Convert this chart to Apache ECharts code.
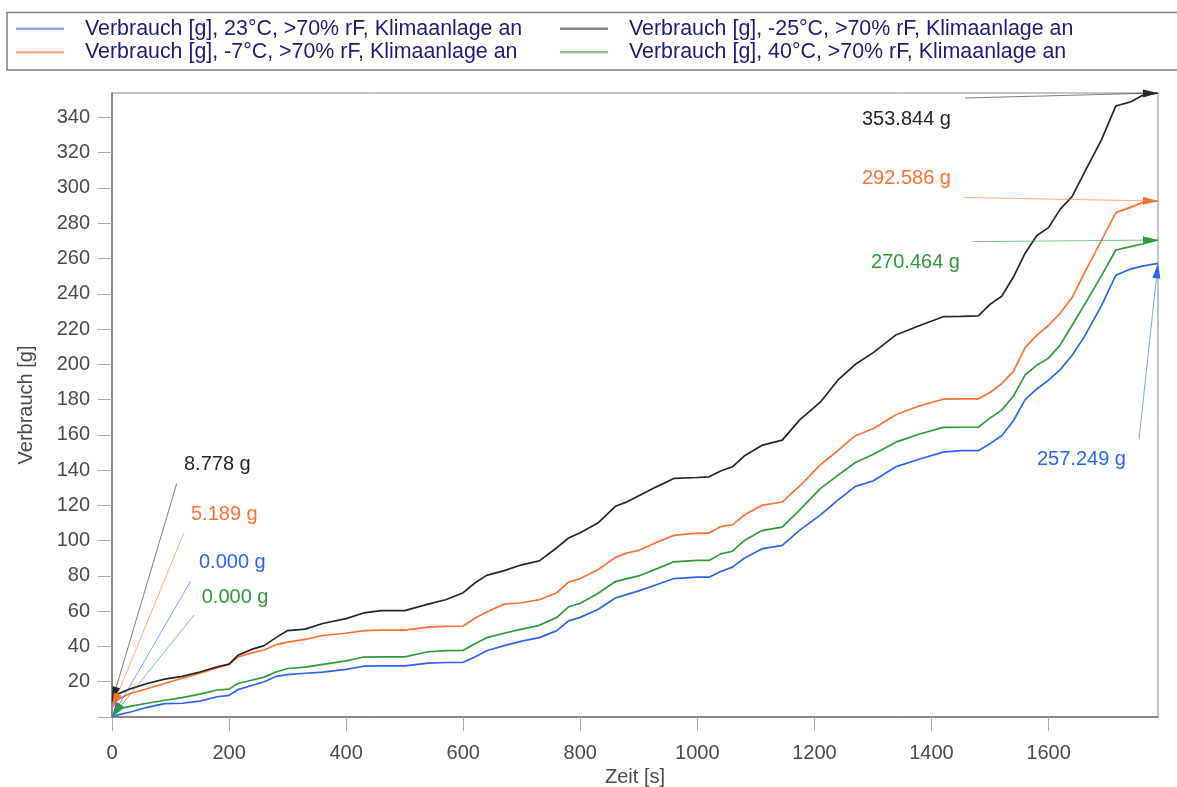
<!DOCTYPE html>
<html>
<head>
<meta charset="utf-8">
<title>Verbrauch</title>
<script src="https://cdn.jsdelivr.net/npm/echarts@6.0.0/dist/echarts.min.js"></script>
<style>
  html, body { margin: 0; padding: 0; background: #ffffff; }
  #chart { width: 1177px; height: 787px; }
</style>
</head>
<body>
<div id="chart"></div>
<script>
// Time axis [s], shared by all measurement runs
const zeit = [
  0, 10, 30, 60, 90, 120, 150, 180, 200, 215, 240, 260, 280, 300, 330, 360, 400, 430, 460, 500,
  540, 570, 600, 620, 640, 670, 700, 730, 760, 780, 800, 830, 860, 880, 900, 930, 960, 1000, 1020, 1040,
  1060, 1080, 1110, 1145, 1175, 1210, 1240, 1270, 1300, 1340, 1380, 1420, 1450, 1480, 1500, 1520, 1540, 1560, 1580, 1600,
  1620, 1640, 1660, 1690, 1715, 1740, 1760, 1787
];

// Cumulative consumption [g] per climate condition
const verbrauch23 = [
  0, 1.2, 2.7, 5.5, 7.6, 7.8, 9, 11.5, 12.3, 15.5, 18, 20, 23, 24, 24.8, 25.5, 27, 28.8, 29, 29,
  30.6, 30.9, 31, 34, 37.6, 40.5, 43, 45, 49, 54.5, 56.5, 61, 67.5, 69.5, 71.5, 75, 78.5, 79.3, 79.3, 82.5,
  85, 90, 95.3, 97.3, 106, 114.5, 123, 130.8, 133.8, 142, 146.3, 150.2, 151, 151, 155, 159.5, 168, 180, 186, 191,
  197, 205, 215, 233, 250.5, 254, 255.7, 257.249
];
const verbrauchMinus7 = [
  5.189, 10, 13.2, 16, 19, 22, 24.8, 28, 29.8, 34, 36.5, 38, 41, 42.5, 44, 46.2, 47.5, 49, 49.3, 49.3,
  51, 51.4, 51.6, 56, 59.5, 64, 64.8, 66.5, 70.5, 76.5, 78.5, 83.5, 90.5, 93, 94.5, 99, 103, 104.3, 104.3, 108,
  109, 114.5, 120, 121.9, 131, 143, 151, 159.5, 163.5, 171.5, 176.5, 180.2, 180.4, 180.4, 184, 189, 196, 209.5, 216.5, 222,
  229, 237.7, 251, 270, 286, 289, 291.7, 292.586
];
const verbrauchMinus25 = [
  8.778, 13, 15.8, 19, 21.5, 23, 25.5, 28.5, 30, 35, 38.5, 40.5, 45, 49, 49.8, 53, 55.8, 59, 60.3, 60.3,
  64, 66.5, 70.5, 76, 80.3, 83, 86.3, 88.5, 96, 101.5, 104.5, 110, 119.5, 122, 125.5, 130.5, 135.3, 135.8, 136.2, 139.5,
  141.9, 148, 154, 157, 168.5, 178.5, 191, 200, 206.5, 216.8, 222, 227, 227.2, 227.5, 234, 238.6, 249.5, 263, 273, 277.5,
  288, 295, 308, 327, 346.5, 348.8, 352.4, 353.844
];
const verbrauch40 = [
  0, 4.5, 6, 7.8, 9.5, 11, 13, 15.3, 15.8, 19, 21, 22.6, 25.5, 27.5, 28.3, 29.8, 31.8, 34, 34.1, 34.1,
  37, 37.6, 37.8, 41.5, 45, 47.5, 49.8, 52, 56.5, 62.5, 64.5, 70, 76.8, 78.5, 80, 84, 88, 88.8, 88.8, 92.5,
  94, 100, 105.7, 107.7, 117.5, 129.5, 137, 144.3, 148.8, 156, 160.5, 164.2, 164.3, 164.3, 169.5, 174, 182, 194, 199.5, 203.5,
  211, 222, 233, 250, 264.8, 266.7, 268.2, 270.464
];

// Series names (legend texts)
const serienNamen = [
  'Verbrauch [g], 23°C, >70% rF, Klimaanlage an',
  'Verbrauch [g], -7°C, >70% rF, Klimaanlage an',
  'Verbrauch [g], -25°C, >70% rF, Klimaanlage an',
  'Verbrauch [g], 40°C, >70% rF, Klimaanlage an'
];
const serienWerte = [verbrauch23, verbrauchMinus7, verbrauchMinus25, verbrauch40];
const serienFarben = ['#2d63f0', '#ff7033', '#262626', '#2f9a3a'];

// Axis ticks and labels
const xTicks = [0, 200, 400, 600, 800, 1000, 1200, 1400, 1600];
const yTicks = [0, 20, 40, 60, 80, 100, 120, 140, 160, 180, 200, 220, 240, 260, 280, 300, 320, 340];
const yLabels = yTicks.filter(v => v > 0);

// Value callouts: which series, start or end value, and pixel layout of line start and text
const callouts = [
  { serie: 2, punkt: 'first', line: [64.7, -217.9], text: [72, -236.6] },
  { serie: 1, punkt: 'first', line: [72, -175.2], text: [79, -193.6] },
  { serie: 0, punkt: 'first', line: [78.7, -136], text: [87, -154.3] },
  { serie: 3, punkt: 'first', line: [82, -102], text: [89.7, -119.3] },
  { serie: 2, punkt: 'last', line: [-193, 5], text: [-296, 26] },
  { serie: 1, punkt: 'last', line: [-193.7, -3.5], text: [-296, -23] },
  { serie: 3, punkt: 'last', line: [-185.3, 1.6], text: [-287, 22] },
  { serie: 0, punkt: 'last', line: [-19, 176], text: [-121, 196] }
];

const FONT = "'Liberation Sans', Arial, sans-serif";
const xMax = zeit[zeit.length - 1];
const yMax = Math.max(...serienWerte.map(s => Math.max(...s)));

const lineSeries = serienWerte.map((werte, i) => ({
  name: serienNamen[i],
  type: 'line',
  data: zeit.map((t, k) => [t, werte[k]]),
  symbol: 'none',
  showSymbol: false,
  color: serienFarben[i],
  lineStyle: { width: 1.7, color: serienFarben[i] },
  z: 3
}));

const calloutData = callouts.map((c, i) => {
  const werte = serienWerte[c.serie];
  const k = c.punkt === 'first' ? 0 : werte.length - 1;
  return [zeit[k], werte[k], i];
});

const calloutSeries = {
  type: 'custom',
  name: 'Werte',
  coordinateSystem: 'cartesian2d',
  clip: false,
  silent: true,
  z: 5,
  encode: { x: 0, y: 1 },
  data: calloutData,
  renderItem: function (params, api) {
    const c = callouts[api.value(2)];
    const wert = api.value(1);
    const farbe = serienFarben[c.serie];
    const tip = api.coord([api.value(0), wert]);
    const start = [tip[0] + c.line[0], tip[1] + c.line[1]];
    const dx = tip[0] - start[0], dy = tip[1] - start[1];
    const len = Math.sqrt(dx * dx + dy * dy);
    const ux = dx / len, uy = dy / len;
    const L = 15, W = 4;
    const base = [tip[0] - ux * L, tip[1] - uy * L];
    const nx = -uy, ny = ux;
    return {
      type: 'group',
      children: [
        {
          type: 'line',
          shape: { x1: start[0], y1: start[1], x2: base[0], y2: base[1] },
          style: { stroke: farbe, lineWidth: 1, opacity: 0.6 }
        },
        {
          type: 'polygon',
          shape: { points: [tip, [base[0] + nx * W, base[1] + ny * W], [base[0] - nx * W, base[1] - ny * W]] },
          style: { fill: farbe }
        },
        {
          type: 'text',
          x: tip[0] + c.text[0],
          y: tip[1] + c.text[1],
          style: {
            text: wert.toFixed(3) + ' g',
            fill: farbe,
            font: '20px ' + FONT,
            align: 'left',
            verticalAlign: 'middle'
          }
        }
      ]
    };
  }
};

const legendBase = {
  orient: 'vertical',
  top: 18,
  padding: 0,
  icon: 'rect',
  itemWidth: 48,
  itemHeight: 2.5,
  itemGap: 2,
  itemStyle: { opacity: 0.55 },
  selectedMode: false,
  textStyle: { color: '#1c1c78', fontSize: 21.4, fontFamily: FONT, lineHeight: 21.5, padding: [0, 0, 0, 16] }
};

const plainNumber = v => String(v);

const chart = echarts.init(document.getElementById('chart'), null, { renderer: 'canvas' });
chart.setOption({
  animation: false,
  backgroundColor: '#ffffff',
  graphic: [{
    type: 'rect',
    shape: { x: 7, y: 12.5, width: 1180, height: 57.5 },
    style: { fill: 'none', stroke: '#7f7f7f', lineWidth: 1.5 },
    silent: true
  }],
  legend: [
    Object.assign({}, legendBase, { left: 16, data: [serienNamen[0], serienNamen[1]] }),
    Object.assign({}, legendBase, { left: 560, data: [serienNamen[2], serienNamen[3]] })
  ],
  grid: {
    left: 112, right: 19, top: 93, bottom: 70,
    containLabel: false,
    outerBoundsMode: 'none',
    show: true, borderColor: '#8a8a8a', borderWidth: 1, backgroundColor: '#ffffff'
  },
  xAxis: {
    type: 'value',
    min: 0,
    max: xMax,
    name: 'Zeit [s]',
    nameLocation: 'middle',
    nameGap: 50,
    nameTextStyle: { color: '#4a4a4a', fontSize: 20, fontFamily: FONT },
    axisLine: { show: true, lineStyle: { color: '#777777', width: 1.5 } },
    axisTick: { show: true, length: 14, customValues: xTicks, lineStyle: { color: '#aaaaaa' } },
    axisLabel: { customValues: xTicks, formatter: plainNumber, margin: 26, color: '#4a4a4a', fontSize: 20, fontFamily: FONT },
    splitLine: { show: false }
  },
  yAxis: {
    type: 'value',
    min: 0,
    max: yMax,
    name: 'Verbrauch [g]',
    nameLocation: 'middle',
    nameGap: 76,
    nameTextStyle: { color: '#4a4a4a', fontSize: 20, fontFamily: FONT },
    axisLine: { show: true, lineStyle: { color: '#777777', width: 1.5 } },
    axisTick: { show: true, length: 14, customValues: yTicks, lineStyle: { color: '#aaaaaa' } },
    axisLabel: { customValues: yLabels, formatter: plainNumber, margin: 22, color: '#4a4a4a', fontSize: 20, fontFamily: FONT },
    splitLine: { show: false }
  },
  series: lineSeries.concat([calloutSeries])
});
</script>
</body>
</html>
